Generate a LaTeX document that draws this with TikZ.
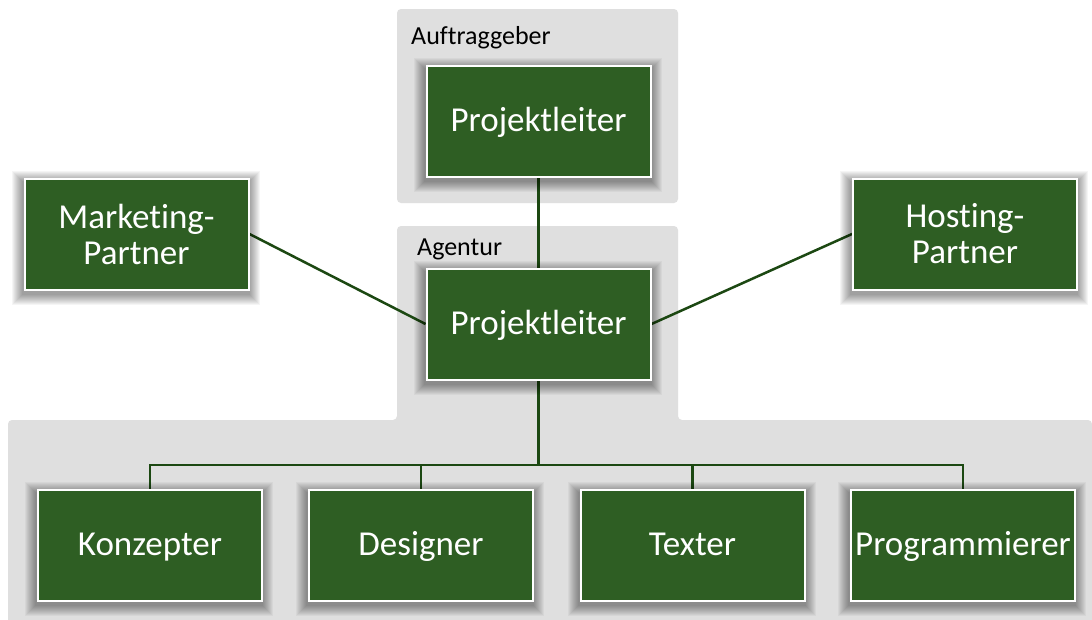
\documentclass[tikz,border=0pt]{standalone}
\usepackage{fontspec}
\setmainfont{Carlito}[Ligatures=NoCommon]
\usetikzlibrary{backgrounds,calc}
\definecolor{boxgreen}{RGB}{46,94,35}
\definecolor{linegreen}{RGB}{28,72,18}
\definecolor{panelgray}{RGB}{223,223,223}
\tikzset{
  orgbox/.style={rectangle, fill=boxgreen, draw=white, line width=2pt,
    minimum width=224pt, minimum height=111pt, inner sep=2pt,
    text=white, align=center,
    font=\fontsize{35}{36}\selectfont},
  oneline/.style={text height=26pt, text depth=6pt},
  conn/.style={draw=linegreen, line width=2.5pt},
  panel/.style={fill=panelgray, rounded corners=4pt},
  paneltitle/.style={anchor=base west, inner sep=0pt, text=black,
    font=\fontsize{26}{28}\selectfont},
  softshade/.style={fill=black, fill opacity=0.04}
}
\begin{document}
\begin{tikzpicture}[x=1pt,y=-1pt]
  \useasboundingbox (0,0) rectangle (1092,619);

  % boxes
  \node[orgbox,oneline] (plA)  at (538.5,121.5) {Projektleiter};
  \node[orgbox,oneline] (plB)  at (538.5,324)   {Projektleiter};
  \node[orgbox] (mkt)  at (136.5,234)   {Marketing-\\Partner};
  \node[orgbox] (host) at (965,234)     {Hosting-\\Partner};
  \node[orgbox,oneline] (konz) at (150,545)     {Konzepter};
  \node[orgbox,oneline] (des)  at (421,545)     {Designer};
  \node[orgbox,oneline] (tex)  at (692.5,545)   {Texter};
  \node[orgbox,oneline] (prog) at (963,545)     {Programmierer};

  \coordinate (bus) at (538.5,465);

  \begin{scope}[on background layer]
    \fill[white] (0,0) rectangle (1092,619);
    % grey panels
    \path[panel] (397,9) rectangle (678,203);
    \path[panel] (397,226) -- (678,226) -- (678,420) -- (1092,420)
      -- (1092,625) -- (8,625) -- (8,420) -- (397,420) -- cycle;
    \node[paneltitle] (tAuf) at (411,44) {Auftraggeber};
    \node[paneltitle] (tAg)  at (417,255) {Agentur};

    % connectors
    \draw[conn] (plA.south) -- (plB.north);
    \draw[conn] (mkt.east) -- (plB.west);
    \draw[conn] (host.west) -- (plB.east);
    \draw[conn] (plB.south) -- (bus);
    \draw[conn] (bus) -| (konz.north);
    \draw[conn] (bus) -| (des.north);
    \draw[conn] (bus) -| (tex.north);
    \draw[conn] (bus) -| (prog.north);

    % soft drop shadows under the boxes
    \foreach \n in {plA,plB,mkt,host,konz,des,tex,prog}{
      \foreach \r in {1,...,11}{
        \fill[softshade]
          ($(\n.south west)+(-\r pt-1pt,-\r pt-3pt)$) rectangle
          ($(\n.north east)+(\r pt-1pt,\r pt-4pt)$);
      }
    }
  \end{scope}
\end{tikzpicture}
\end{document}
